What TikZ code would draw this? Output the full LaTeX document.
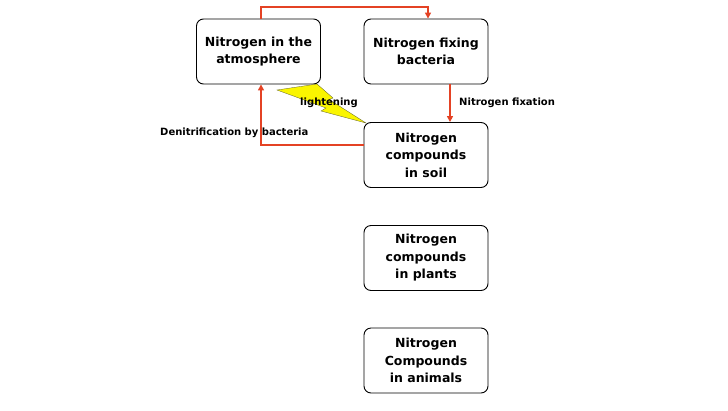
\documentclass[tikz,border=0pt]{standalone}
\usepackage{fontspec}
\setmainfont{DejaVu Sans}
\usetikzlibrary{arrows.meta}
\definecolor{linkred}{RGB}{228,66,36}
\definecolor{boltyellow}{RGB}{250,245,0}
\definecolor{boltedge}{RGB}{90,90,40}
\begin{document}
\begin{tikzpicture}[x=1pt,y=-1pt,
  box/.style={draw=black,line width=0.9pt,rounded corners=7pt,minimum width=124pt,minimum height=65pt,align=center,inner sep=0pt,font=\fontsize{12.5}{17.5}\selectfont\bfseries},
  arr/.style={draw=linkred,line width=2pt,-{Triangle[length=6pt,width=6pt]}},
  lab/.style={font=\fontsize{10}{11}\selectfont\bfseries,inner sep=0pt}]
\useasboundingbox (0,0) rectangle (728,410);
\node[box] (atm) at (258.5,51.5) {Nitrogen in the\\atmosphere};
\node[box] (fix) at (426,51.5) {Nitrogen fixing\\bacteria};
\node[box] (soil) at (426,155) {Nitrogen\\compounds\\in soil};
\node[box] (plants) at (426,258) {Nitrogen\\compounds\\in plants};
\node[box] (animals) at (426,360.5) {Nitrogen\\Compounds\\in animals};
\draw[arr] ([xshift=2.5pt]atm.north) -- ++(0,-12) -| ([xshift=2pt]fix.north);
\draw[arr] ([xshift=24pt]fix.south) -- ([xshift=24pt]soil.north);
\draw[arr] ([yshift=10pt]soil.west) -| ([xshift=2.5pt]atm.south);
\filldraw[fill=boltyellow,draw=boltedge,line width=0.3pt] (277,90) -- (317,84) -- (333,98) -- (329,99.5) -- (366,123) -- (321,111) -- (326,108) -- cycle;
\node[lab] (light) at (329,103) {lightening};
\node[lab,anchor=west] (fixlab) at (459,103) {Nitrogen fixation};
\node[lab,anchor=west] (denlab) at (160,133) {Denitrification by bacteria};
\end{tikzpicture}
\end{document}
